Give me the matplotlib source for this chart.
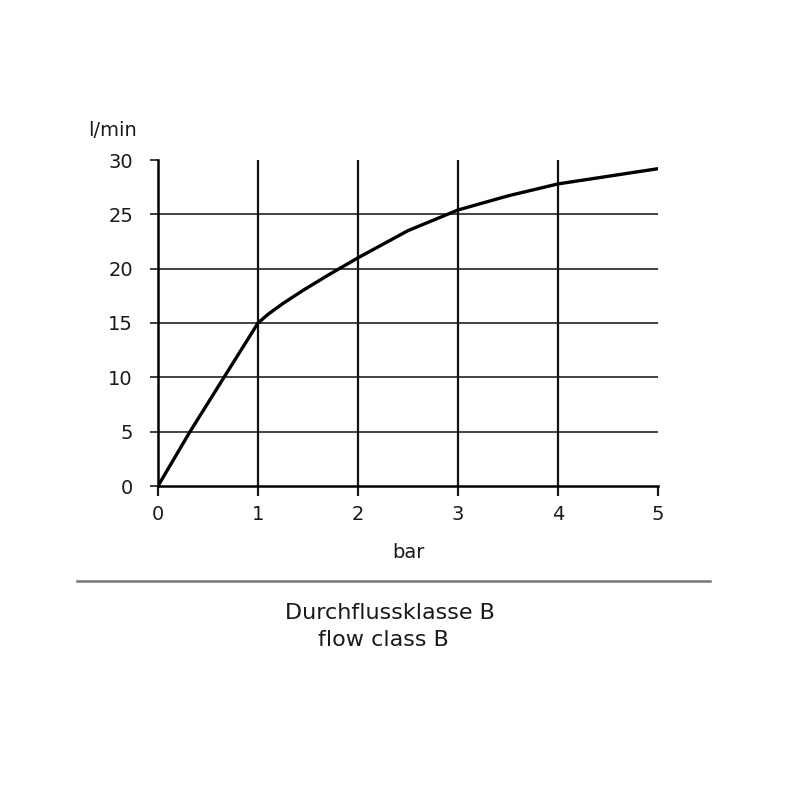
import matplotlib.pyplot as plt

plt.rcParams['font.family'] = ['DejaVu Sans']

# flow curve
pressure_bar = [0, 0.32, 0.66, 1.0, 1.1, 1.25, 1.45, 1.7, 2.0, 2.5, 3.0, 3.5, 4.0, 4.5, 5.0]
flow_lmin = [0, 5.0, 10.0, 15.0, 15.8, 16.8, 18.0, 19.4, 21.0, 23.5, 25.4, 26.7, 27.8, 28.5, 29.2]
x_ticks = [0, 1, 2, 3, 4, 5]
y_ticks = [0, 5, 10, 15, 20, 25, 30]

fig = plt.figure(figsize=(8, 8), dpi=100)
ax = fig.add_axes([0.1975, 0.3925, 0.625, 0.4075])

for y in y_ticks[1:-1]:
    ax.axhline(y, color='#111111', lw=1.1, zorder=1)
for x in x_ticks[1:-1]:
    ax.axvline(x, color='#111111', lw=1.6, zorder=1)

ax.plot(pressure_bar, flow_lmin, color='black', lw=2.4, zorder=3)

ax.set_xlim(0, 5)
ax.set_ylim(0, 30)
ax.set_xticks(x_ticks)
ax.set_yticks(y_ticks)
for s in ['top', 'right']:
    ax.spines[s].set_visible(False)
ax.spines['left'].set_linewidth(1.8)
ax.spines['bottom'].set_linewidth(1.8)
ax.tick_params(axis='x', length=7, width=1.6, labelsize=14, pad=7, colors='#1a1a1a')
ax.tick_params(axis='y', length=6, width=1.2, labelsize=14, pad=12, colors='#1a1a1a')

fig.text(0.11, 0.837, 'l/min', fontsize=14, ha='left', va='center', color='#1a1a1a')
fig.text(0.511, 0.31, 'bar', fontsize=14, ha='center', va='center', color='#1a1a1a')

fig.add_artist(plt.Line2D([0.096, 0.888], [0.274, 0.274], color='#777777', lw=1.8))
fig.text(0.488, 0.234, 'Durchflussklasse B', fontsize=16, ha='center', va='center', color='#1a1a1a')
fig.text(0.479, 0.2, 'flow class B', fontsize=16, ha='center', va='center', color='#1a1a1a')

plt.savefig('out.png', dpi=100)
plt.close()
